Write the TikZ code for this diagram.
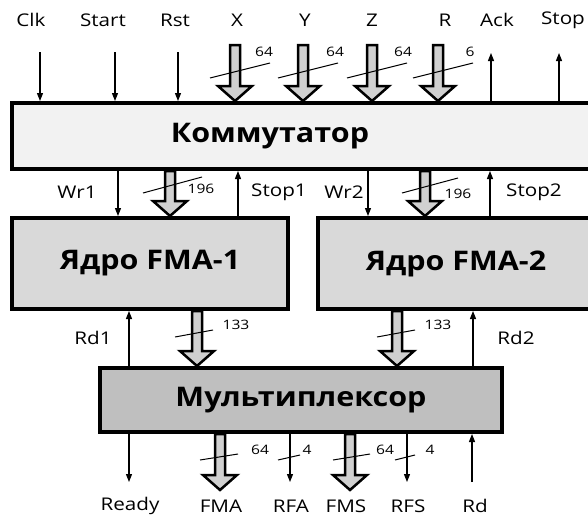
\documentclass[tikz,border=0pt]{standalone}
\usepackage{fontspec}
\setmainfont{Open Sans}
\usetikzlibrary{calc,arrows.meta}
\definecolor{komfill}{HTML}{F2F2F2}
\definecolor{corefill}{HTML}{D9D9D9}
\definecolor{muxfill}{HTML}{BFBFBF}
\definecolor{busfill}{HTML}{D0D0D0}
\tikzset{
lbl/.style={font=\fontsize{17.5}{19}\selectfont, xscale=1.18, inner sep=0pt},
num/.style={font=\fontsize{13}{14}\selectfont, xscale=1.2, inner sep=0pt},
ttl/.style={font=\bfseries\fontsize{27}{30}\selectfont, xscale=1.13, inner sep=0pt},
blk/.style={draw, line width=4pt, inner sep=0pt},
sig/.style={-{Triangle[length=8pt,width=6pt]}, line width=1.2pt},
slash/.style={line width=1pt},
bus/.style={draw, fill=busfill, line width=2.5pt, line join=miter,
 to path={let \p1=(\tikztostart), \p2=(\tikztotarget) in
 (\x1-5pt,\y1)--(\x1+5pt,\y1)--(\x1+5pt,\y2+15pt)--(\x1+17pt,\y2+15pt)
 --(\x1,\y2)--(\x1-17pt,\y2+15pt)--(\x1-5pt,\y2+15pt)--cycle}}
}
\begin{document}
\begin{tikzpicture}[x=1pt,y=-1pt]
\useasboundingbox (0,0) rectangle (588,517);
% blocks
\node[blk, fill=komfill, minimum width=588pt, minimum height=66pt] (kom) at (306,136) {};
\node[ttl] (komtxt) at (270,136) {Коммутатор};
\node[blk, fill=corefill, minimum width=276pt, minimum height=91pt] (core1) at (150,263.5) {};
\node[ttl] at (core1) {Ядро FMA-1};
\node[blk, fill=corefill, minimum width=276pt, minimum height=91pt] (core2) at (456,263.5) {};
\node[ttl] at (core2) {Ядро FMA-2};
\node[blk, fill=muxfill, minimum width=402pt, minimum height=64pt] (mux) at (301,400) {};
\node[ttl] at (mux) {Мультиплексор};
%
% top inputs
\node[lbl] (clk) at (31,20) {Clk};
\node[lbl] (start) at (103,20) {Start};
\node[lbl] (rst) at (175,20) {Rst};
\node[lbl] (xl) at (237,20) {X};
\node[lbl] (yl) at (305,20) {Y};
\node[lbl] (zl) at (372,20) {Z};
\node[lbl] (rl) at (445,20) {R};
\node[lbl] (ack) at (497,20) {Ack};
\node[lbl] (stop) at (563,20) {Stop};
\coordinate (clkin) at (40,52);
\coordinate (startin) at (115,52);
\coordinate (rstin) at (178,52);
\coordinate (ackout) at (491,53);
\coordinate (stopout) at (559,53);
\coordinate (xin) at (235,45);
\coordinate (yin) at (303,45);
\coordinate (zin) at (372,45);
\coordinate (rin) at (438,45);
\draw[sig] (clkin) -- (clkin |- kom.north);
\draw[sig] (startin) -- (startin |- kom.north);
\draw[sig] (rstin) -- (rstin |- kom.north);
\draw[sig] (ackout |- kom.north) -- (ackout);
\draw[sig] (stopout |- kom.north) -- (stopout);
\draw[bus] (xin) to (xin |- kom.north);
\draw[bus] (yin) to (yin |- kom.north);
\draw[bus] (zin) to (zin |- kom.north);
\draw[bus] (rin) to (rin |- kom.north);
\draw[slash] (210,78) -- (270,63);
\draw[slash] (278,78) -- (338,63);
\draw[slash] (347,78) -- (407,63);
\draw[slash] (413,78) -- (473,63);
\node[num] (nx) at (264,52) {64};
\node[num] (ny) at (335,52) {64};
\node[num] (nz) at (403,52) {64};
\node[num] (nr) at (470,52) {6};
%
% commutator -> cores
\coordinate (wr1) at (118,0);
\coordinate (bus1) at (170,0);
\coordinate (stop1) at (238,0);
\coordinate (wr2) at (368,0);
\coordinate (bus2) at (425,0);
\coordinate (stop2) at (490,0);
\draw[sig] (wr1 |- kom.south) -- (wr1 |- core1.north);
\draw[bus] (bus1 |- kom.south) to (bus1 |- core1.north);
\draw[sig] (stop1 |- core1.north) -- (stop1 |- kom.south);
\draw[sig] (wr2 |- kom.south) -- (wr2 |- core2.north);
\draw[bus] (bus2 |- kom.south) to (bus2 |- core2.north);
\draw[sig] (stop2 |- core2.north) -- (stop2 |- kom.south);
\draw[slash] (143,193) -- (202,177);
\draw[slash] (402,193) -- (458,178);
\node[lbl] (wr1l) at (77,192) {Wr1};
\node[num] (n196a) at (201,189) {196};
\node[lbl] (stop1l) at (279,192) {Stop1};
\node[lbl] (wr2l) at (344,192) {Wr2};
\node[num] (n196b) at (458,194) {196};
\node[lbl] (stop2l) at (534,192) {Stop2};
%
% cores -> multiplexer
\coordinate (rd1) at (129,0);
\coordinate (res1) at (197,0);
\coordinate (res2) at (397,0);
\coordinate (rd2) at (473,0);
\draw[sig] (rd1 |- mux.north) -- (rd1 |- core1.south);
\draw[bus] (res1 |- core1.south) to (res1 |- mux.north);
\draw[bus] (res2 |- core2.south) to (res2 |- mux.north);
\draw[sig] (rd2 |- mux.north) -- (rd2 |- core2.south);
\draw[slash] (175,337) -- (213,330);
\draw[slash] (377,337) -- (415,330);
\node[lbl] (rd1l) at (93,338) {Rd1};
\node[num] (n133a) at (236,325) {133};
\node[num] (n133b) at (438,325) {133};
\node[lbl] (rd2l) at (516,338) {Rd2};
%
% outputs
\coordinate (readyout) at (129,482);
\coordinate (fmaout) at (220,490);
\coordinate (rfaout) at (290,482);
\coordinate (fmsout) at (350,490);
\coordinate (rfsout) at (407,482);
\coordinate (rdin) at (472,482);
\draw[sig] (readyout |- mux.south) -- (readyout);
\draw[bus] (fmaout |- mux.south) to (fmaout);
\draw[sig] (rfaout |- mux.south) -- (rfaout);
\draw[bus] (fmsout |- mux.south) to (fmsout);
\draw[sig] (rfsout |- mux.south) -- (rfsout);
\draw[sig] (rdin) -- (rdin |- mux.south);
\draw[slash] (200,460) -- (238,454);
\draw[slash] (278,460) -- (300,455);
\draw[slash] (333,460) -- (370,454);
\draw[slash] (395,460) -- (415,455);
\node[num] (nfma) at (260,450) {64};
\node[num] (nrfa) at (307,450) {4};
\node[num] (nfms) at (385,450) {64};
\node[num] (nrfs) at (430,450) {4};
\node[lbl] (ready) at (130,506) {Ready};
\node[lbl] (fma) at (221,506) {FMA};
\node[lbl] (rfa) at (291,506) {RFA};
\node[lbl] (fms) at (346,506) {FMS};
\node[lbl] (rfs) at (408,506) {RFS};
\node[lbl] (rd) at (475,506) {Rd};
\end{tikzpicture}
\end{document}
